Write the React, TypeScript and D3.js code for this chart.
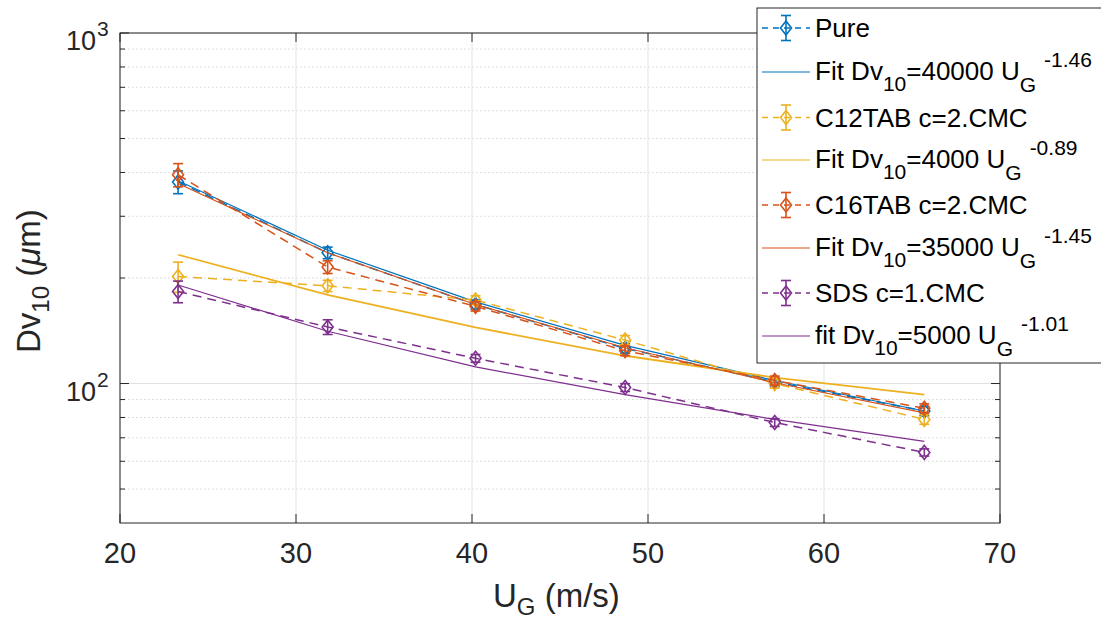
import React from "react";
import * as d3 from "d3";

const W = 1101;
const H = 619;

const ugValues = [23.3, 31.8, 40.2, 48.7, 57.2, 65.7];

const pureVals = [376, 236, 168, 126, 101, 83.5];
const pureErr = [28, 9, 5, 4, 3, 2.5];
const pureFit = [379, 240, 171, 128.5, 102, 83.5];

const c12Vals = [202, 190, 173, 133, 100, 79];
const c12Err = [20, 7, 5, 4, 3, 2.5];
const c12Fit = [233, 179, 144.5, 120, 104, 93];

const c16Vals = [394, 215, 166, 124, 102, 85];
const c16Err = [30, 9, 5, 4, 3, 2.5];
const c16Fit = [372, 236, 168, 126.5, 100.5, 82.5];

const sdsVals = [183, 145, 118, 97.4, 77.4, 63.6];
const sdsErr = [13, 7, 3, 2.5, 2, 1.5];
const sdsFit = [191, 141, 111.5, 93, 79, 68.4];

const xTicks = [20, 30, 40, 50, 60, 70];
const yMajor = [100, 1000];
const yMinor = [50, 60, 70, 80, 90, 200, 300, 400, 500, 600, 700, 800, 900];

const COLORS = {
  blue: "#0072BD",
  orange: "#D95319",
  yellow: "#EDB120",
  purple: "#7E2F8E",
};

const series = [
  { name: "Pure", vals: pureVals, err: pureErr, fit: pureFit, color: COLORS.blue, fitW: 1.2, fitLabel: ["Fit Dv", "10", "=40000 U", "G", "-1.46"] },
  { name: "C12TAB c=2.CMC", vals: c12Vals, err: c12Err, fit: c12Fit, color: COLORS.yellow, fitW: 1.8, fitLabel: ["Fit Dv", "10", "=4000 U", "G", "-0.89"] },
  { name: "C16TAB c=2.CMC", vals: c16Vals, err: c16Err, fit: c16Fit, color: COLORS.orange, fitW: 1.2, fitLabel: ["Fit Dv", "10", "=35000 U", "G", "-1.45"] },
  { name: "SDS c=1.CMC", vals: sdsVals, err: sdsErr, fit: sdsFit, color: COLORS.purple, fitW: 1.2, fitLabel: ["fit Dv", "10", "=5000 U", "G", "-1.01"] },
];

const FONT = "'Liberation Sans', Arial, Helvetica, sans-serif";

function Diamond({ cx, cy, color }: { cx: number; cy: number; color: string }) {
  const h = 7, w = 5.5;
  return (
    <path
      d={`M${cx},${cy - h}L${cx + w},${cy}L${cx},${cy + h}L${cx - w},${cy}Z`}
      fill="none"
      stroke={color}
      strokeWidth={1.6}
    />
  );
}

function ErrBar({ cx, y1, y2, color }: { cx: number; y1: number; y2: number; color: string }) {
  const cw = 5;
  return (
    <g stroke={color} strokeWidth={1.6} fill="none">
      <line x1={cx} x2={cx} y1={y1} y2={y2} />
      <line x1={cx - cw} x2={cx + cw} y1={y1} y2={y1} />
      <line x1={cx - cw} x2={cx + cw} y1={y2} y2={y2} />
    </g>
  );
}

export default function App() {
  const left = 120, right = 1000, top = 33, bottom = 523;
  const x = d3.scaleLinear().domain([20, 70]).range([left, right]);
  const y = d3.scaleLog().domain([40, 1000]).range([bottom, top]);

  const line = d3
    .line<[number, number]>()
    .x((d) => x(d[0]))
    .y((d) => y(d[1]));

  const gridCol = "#e2e2e2";
  const axisCol = "#262626";

  const legX = 757, legY = 8;
  const dataBase = [37, 126.5, 214, 302];
  const fitBase = [80, 168, 256, 344];

  return (
    <svg width={W} height={H} style={{ position: "absolute", left: 0, top: 0 }} fontFamily={FONT}>
      <rect x={0} y={0} width={W} height={H} fill="white" />
      {/* grid */}
      {yMinor.map((v) => (
        <line key={"ym" + v} x1={left} x2={right} y1={y(v)} y2={y(v)} stroke="#d6d6d6" strokeWidth={1} strokeDasharray="1.5,2.5" />
      ))}
      {yMajor.map((v) => (
        <line key={"yM" + v} x1={left} x2={right} y1={y(v)} y2={y(v)} stroke={gridCol} strokeWidth={1} />
      ))}
      {xTicks.map((v) => (
        <line key={"xg" + v} x1={x(v)} x2={x(v)} y1={top} y2={bottom} stroke={gridCol} strokeWidth={1} />
      ))}

      {/* series */}
      {series.map((s) => {
        const pts: [number, number][] = ugValues.map((u, i) => [u, s.vals[i]]);
        const fpts: [number, number][] = ugValues.map((u, i) => [u, s.fit[i]]);
        return (
          <g key={s.name}>
            <path d={line(pts) || ""} fill="none" stroke={s.color} strokeWidth={1.5} strokeDasharray="9,6" />
            {ugValues.map((u, i) => (
              <ErrBar key={"e" + i} cx={x(u)} y1={y(s.vals[i] + s.err[i])} y2={y(s.vals[i] - s.err[i])} color={s.color} />
            ))}
            {ugValues.map((u, i) => (
              <Diamond key={"d" + i} cx={x(u)} cy={y(s.vals[i])} color={s.color} />
            ))}
            <path d={line(fpts) || ""} fill="none" stroke={s.color} strokeWidth={s.fitW} />
          </g>
        );
      })}

      {/* axes box */}
      <rect x={left} y={top} width={right - left} height={bottom - top} fill="none" stroke={axisCol} strokeWidth={1} />
      {/* x ticks */}
      {xTicks.map((v) => (
        <g key={"xt" + v}>
          <line x1={x(v)} x2={x(v)} y1={bottom} y2={bottom - 9} stroke={axisCol} />
          <line x1={x(v)} x2={x(v)} y1={top} y2={top + 9} stroke={axisCol} />
          <text x={x(v)} y={563} textAnchor="middle" fontSize={29} fill={axisCol}>
            {v}
          </text>
        </g>
      ))}
      {/* y ticks */}
      {yMajor.map((v) => (
        <g key={"yt" + v}>
          <line x1={left} x2={left + 9} y1={y(v)} y2={y(v)} stroke={axisCol} />
          <line x1={right} x2={right - 9} y1={y(v)} y2={y(v)} stroke={axisCol} />
          <text x={66} y={y(v) + 17} fontSize={27} fill={axisCol}>
            10
            <tspan fontSize={21} dy={-14} dx={1}>
              {Math.round(Math.log10(v))}
            </tspan>
          </text>
        </g>
      ))}
      {yMinor.map((v) => (
        <g key={"ymt" + v}>
          <line x1={left} x2={left + 5} y1={y(v)} y2={y(v)} stroke={axisCol} />
          <line x1={right} x2={right - 5} y1={y(v)} y2={y(v)} stroke={axisCol} />
        </g>
      ))}

      {/* axis labels */}
      <text x={493} y={607} fontSize={33} fill={axisCol}>
        U
        <tspan fontSize={24} dy={8}>G</tspan>
        <tspan dy={-8}> (m/s)</tspan>
      </text>
      <text transform={`translate(40,${353}) rotate(-90)`} fontSize={33} fill={axisCol}>
        Dv
        <tspan fontSize={24} dy={9}>10</tspan>
        <tspan dy={-9}> (</tspan>
        <tspan fontStyle="italic">μ</tspan>
        <tspan>m)</tspan>
      </text>

      {/* legend */}
      <rect x={legX} y={legY} width={400} height={355} fill="white" stroke={axisCol} strokeWidth={1} />
      {series.map((s, i) => {
        const dy = dataBase[i] - 9;
        const fy = fitBase[i] - 8;
        const [a, b, c, d, e] = s.fitLabel;
        return (
          <g key={"leg" + i}>
            <line x1={762} x2={810} y1={dy} y2={dy} stroke={s.color} strokeWidth={1.5} strokeDasharray="6,5" />
            <ErrBar cx={786} y1={dy - 12.5} y2={dy + 12.5} color={s.color} />
            <Diamond cx={786} cy={dy} color={s.color} />
            <text x={815} y={dataBase[i]} fontSize={26} fill="#000">
              {s.name}
            </text>
            <line x1={762} x2={810} y1={fy} y2={fy} stroke={s.color} strokeWidth={1.2} />
            <text x={815} y={fitBase[i]} fontSize={26} fill="#000">
              {a}
              <tspan fontSize={21} dy={11}>{b}</tspan>
              <tspan dy={-11}>{c}</tspan>
              <tspan fontSize={21} dy={12}>{d}</tspan>
              <tspan fontSize={21} dy={-25} dx={8}>{e}</tspan>
            </text>
          </g>
        );
      })}
    </svg>
  );
}
